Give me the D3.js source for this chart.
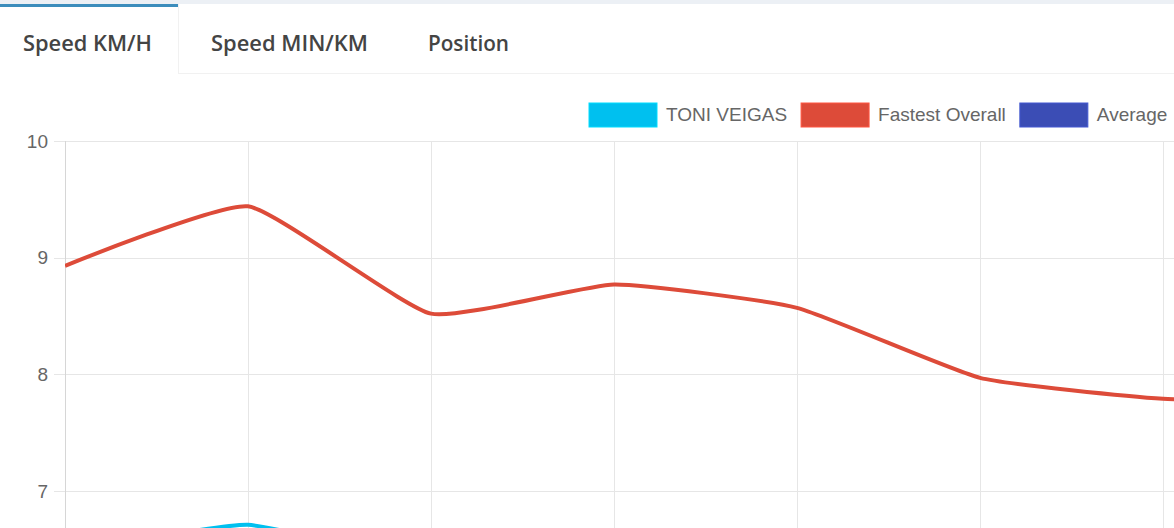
<!DOCTYPE html>
<html>
<head>
<meta charset="utf-8">
<script src="https://cdn.jsdelivr.net/npm/d3@7/dist/d3.min.js"></script>
<style>
  html, body { margin: 0; padding: 0; background: #fff; overflow: hidden; }
  svg { display: block; }
</style>
</head>
<body>
<svg id="chart" width="1174" height="528"></svg>
<script>
// ---- data ----
const tabs = ["Speed KM/H", "Speed MIN/KM", "Position"];
const categories = ["CP1", "CP2", "CP3", "CP4", "CP5", "CP6", "CP7", "CP8"];
const seriesNames = ["TONI VEIGAS", "Fastest Overall", "Average"];
const toniVeigas = [6.47, 6.71, 6.37, 6.3, 6.2, 6.0, 5.9, 5.8];
const fastestOverall = [8.93, 9.44, 8.52, 8.77, 8.57, 7.97, 7.79, 7.78];
const average = [6.1, 6.3, 5.9, 6.0, 5.9, 5.6, 5.5, 5.4];
const yTicks = [10, 9, 8, 7];

// ---- styles ----
const colors = ["#00c0ef", "#dd4b39", "#3b4db5"];
const svg = d3.select("#chart");
const W = 1174, H = 528;

// page background strip + tabs
svg.append("rect").attr("x", 0).attr("y", 0).attr("width", W).attr("height", 4).attr("fill", "#ecf0f5");
svg.append("line").attr("x1", 178).attr("x2", W).attr("y1", 73.5).attr("y2", 73.5).attr("stroke", "#f1f1f1");
svg.append("line").attr("x1", 178.5).attr("x2", 178.5).attr("y1", 4).attr("y2", 74).attr("stroke", "#f1f1f1");
svg.append("rect").attr("x", 0).attr("y", 4).attr("width", 178).attr("height", 3).attr("fill", "#3c8dbc");

const tabX = [23, 211, 428];
const tabW = [129, 157, 81];
svg.selectAll("text.tab").data(tabs).join("text")
  .attr("class", "tab")
  .attr("x", (d, i) => tabX[i]).attr("y", 51)
  .attr("font-family", "'Open Sans', sans-serif").attr("font-weight", 600)
  .attr("font-size", 21).attr("fill", "#444")
  .attr("textLength", (d, i) => tabW[i]).attr("lengthAdjust", "spacingAndGlyphs")
  .text(d => d);

// ---- scales ----
const x = d3.scaleLinear().domain([0, 6]).range([65, 1163]);
const y = d3.scaleLinear().domain([7, 10]).range([491, 141]);

// grid
const g = svg.append("g");
g.selectAll("line.hgrid").data(d3.range(0, 11)).join("line")
  .attr("x1", 54).attr("x2", W)
  .attr("y1", d => Math.round(y(d)) + 0.5).attr("y2", d => Math.round(y(d)) + 0.5)
  .attr("stroke", "#e6e6e6");
g.selectAll("line.vgrid").data(categories).join("line")
  .attr("x1", (d, i) => Math.round(x(i)) + 0.5).attr("x2", (d, i) => Math.round(x(i)) + 0.5)
  .attr("y1", y(10)).attr("y2", H + 200)
  .attr("stroke", (d, i) => i === 0 ? "#d6d6d6" : "#e6e6e6");

g.selectAll("text.ytick").data(yTicks).join("text")
  .attr("x", 48).attr("y", d => y(d)).attr("dy", "0.35em")
  .attr("text-anchor", "end")
  .attr("font-family", "'Liberation Sans', Arial, sans-serif").attr("font-size", 19)
  .attr("fill", "#666").text(d => d);

// lines
const line = d3.line().x((d, i) => x(i)).y(d => y(d)).curve(d3.curveCardinal.tension(0.55));
const all = [toniVeigas, fastestOverall, average];
svg.append("defs").append("clipPath").attr("id", "clip")
  .append("rect").attr("x", x(0)).attr("y", 0).attr("width", W).attr("height", H + 200);
const lg = svg.append("g").attr("clip-path", "url(#clip)");
[2, 1, 0].forEach(k => {
  lg.append("path").datum(all[k]).attr("d", line)
    .attr("fill", "none").attr("stroke", colors[k]).attr("stroke-width", 4)
    .attr("stroke-linejoin", "round");
});

// legend
const leg = svg.append("g");
let lx = 589;
seriesNames.forEach((name, i) => {
  leg.append("rect").attr("x", lx).attr("y", 103).attr("width", 68).attr("height", 24)
    .attr("fill", colors[i]).attr("stroke", d3.color(colors[i]).brighter(0.4)).attr("stroke-width", 1);
  const t = leg.append("text").attr("x", lx + 77).attr("y", 121)
    .attr("font-family", "'Liberation Sans', Arial, sans-serif").attr("font-size", 19)
    .attr("fill", "#666").text(name);
  lx = lx + 77 + t.node().getComputedTextLength() + 14;
});
</script>
</body>
</html>
